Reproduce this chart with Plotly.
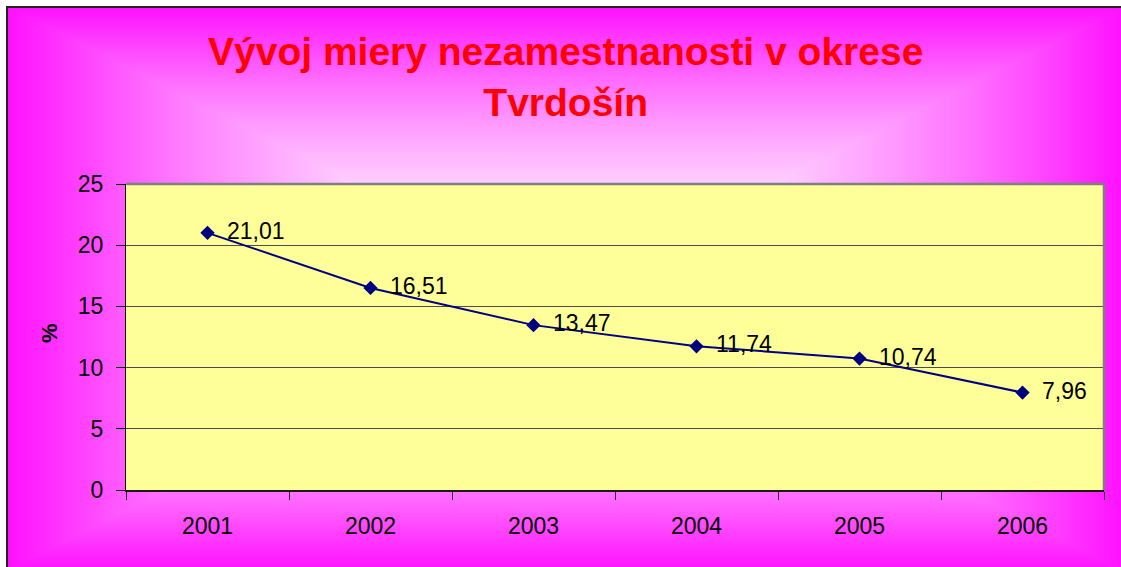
import base64
import plotly.graph_objects as go

# ---- data ----
years = ["2001", "2002", "2003", "2004", "2005", "2006"]
rates = [21.01, 16.51, 13.47, 11.74, 10.74, 7.96]
title_text = "Vývoj miery nezamestnanosti v okrese<br>Tvrdošín"
y_title = "%"
y_ticks = [0, 5, 10, 15, 20, 25]

# ---- geometry (page pixels) ----
FW, FH = 1121, 567
L, R, T, B = 126, 1104, 184, 490
PW, PH = R - L, B - T
BOX_X0, BOX_Y0, BOX_X1, BOX_Y1 = 7, 7, 1124, 570
W, H = BOX_X1 - BOX_X0, BOX_Y1 - BOX_Y0
cx, cy = W / 2, H / 2


def px_x(px):
    return (px - L) / PW


def px_y(py):
    return (B - py) / PH


# rectangular "from center" gradient background + plot area fill (SVG)
stops = ""
for i in range(11):
    off = i / 10
    tc = (1 - off) ** 1.6
    g = round(255 - 239 * tc)
    stops += f'<stop offset="{off:.2f}" stop-color="rgb(255,{g},255)"/>'

pa_x, pa_y = L - BOX_X0, T - BOX_Y0
svg = (
    f'<svg xmlns="http://www.w3.org/2000/svg" width="{W}" height="{H}" '
    f'viewBox="0 0 {W} {H}" preserveAspectRatio="none"><defs>'
    f'<linearGradient id="gt" gradientUnits="userSpaceOnUse" x1="0" y1="0" x2="0" y2="{cy}">{stops}</linearGradient>'
    f'<linearGradient id="gb" gradientUnits="userSpaceOnUse" x1="0" y1="{H}" x2="0" y2="{cy}">{stops}</linearGradient>'
    f'<linearGradient id="gl" gradientUnits="userSpaceOnUse" x1="0" y1="0" x2="{cx}" y2="0">{stops}</linearGradient>'
    f'<linearGradient id="gr" gradientUnits="userSpaceOnUse" x1="{W}" y1="0" x2="{cx}" y2="0">{stops}</linearGradient>'
    f'</defs>'
    f'<polygon points="0,0 {W},0 {cx},{cy}" fill="url(#gt)" stroke="url(#gt)" stroke-width="1.5"/>'
    f'<polygon points="0,{H} {W},{H} {cx},{cy}" fill="url(#gb)" stroke="url(#gb)" stroke-width="1.5"/>'
    f'<polygon points="0,0 0,{H} {cx},{cy}" fill="url(#gl)" stroke="url(#gl)" stroke-width="1.5"/>'
    f'<polygon points="{W},0 {W},{H} {cx},{cy}" fill="url(#gr)" stroke="url(#gr)" stroke-width="1.5"/>'
    f'<rect x="{pa_x}" y="{pa_y}" width="{PW}" height="{PH}" fill="#FFFF99"/>'
    f'</svg>'
)
src = "data:image/svg+xml;base64," + base64.b64encode(svg.encode()).decode()

FONT = "Arial, 'Liberation Sans', sans-serif"

fig = go.Figure()
fig.add_trace(go.Scatter(
    x=years, y=rates,
    mode="lines+markers",
    line=dict(color="#000080", width=2),
    marker=dict(symbol="diamond", size=11, color="#000080"),
    cliponaxis=False,
    hoverinfo="skip",
))

label_annotations = [
    dict(x=i, y=v, xref="x", yref="y", text=f"{v:.2f}".replace(".", ","),
         xanchor="left", yanchor="middle", xshift=17, yshift=2, showarrow=False,
         font=dict(family=FONT, size=23, color="black"))
    for i, v in enumerate(rates)
]

fig.update_layout(
    width=FW, height=FH,
    margin=dict(l=L, r=FW - R, t=T, b=FH - B, pad=0),
    paper_bgcolor="white",
    plot_bgcolor="rgba(0,0,0,0)",
    showlegend=False,
    hovermode=False,
    font=dict(family=FONT, color="black"),
    xaxis=dict(
        type="category", range=[-0.5, 5.5],
        showline=True, linecolor="#1a1a1a", linewidth=1.5,
        ticks="outside", tickson="boundaries", ticklen=8, tickcolor="#1a1a1a",
        tickfont=dict(size=23, family=FONT, color="black"),
        showgrid=False, ticklabelstandoff=15, fixedrange=True,
    ),
    yaxis=dict(
        range=[0, 25], tickvals=y_ticks,
        showline=True, linecolor="black", linewidth=1,
        ticks="outside", ticklen=9, tickcolor="black",
        tickfont=dict(size=23, family=FONT, color="black"),
        showgrid=True, gridcolor="#4d4d4d", gridwidth=1,
        zeroline=False, ticklabelstandoff=8, fixedrange=True,
    ),
    images=[dict(
        source=src, xref="paper", yref="paper",
        x=px_x(BOX_X0), y=px_y(BOX_Y0), sizex=W / PW, sizey=H / PH,
        xanchor="left", yanchor="top", sizing="stretch", layer="below",
    )],
    shapes=[
        dict(type="rect", xref="paper", yref="paper",
             x0=px_x(BOX_X0), x1=px_x(BOX_X1), y0=px_y(BOX_Y1), y1=px_y(BOX_Y0),
             line=dict(color="#222222", width=2), fillcolor="rgba(0,0,0,0)", layer="above"),
        dict(type="line", xref="paper", yref="paper", x0=0, x1=1, y0=1, y1=1,
             line=dict(color="#808080", width=2.5), layer="above"),
        dict(type="line", xref="paper", yref="paper", x0=1, x1=1, y0=0, y1=1,
             line=dict(color="#808080", width=2.5), layer="above"),
    ],
    annotations=[
        dict(text=f"<b>{title_text}</b>", xref="paper", yref="paper",
             x=px_x(565), y=px_y(77.5), xanchor="center", yanchor="middle",
             showarrow=False, font=dict(family=FONT, size=39, color="#FF0000")),
        dict(text=f"<b>{y_title}</b>", xref="paper", yref="paper",
             x=px_x(49), y=px_y(333), xanchor="center", yanchor="middle",
             textangle=-90, showarrow=False,
             font=dict(family=FONT, size=22, color="black")),
    ] + label_annotations,
)

fig.write_html(
    "out.html",
    config={"displayModeBar": False, "staticPlot": True},
    post_script="document.body.style.margin='0';document.body.style.overflow='hidden';",
)
